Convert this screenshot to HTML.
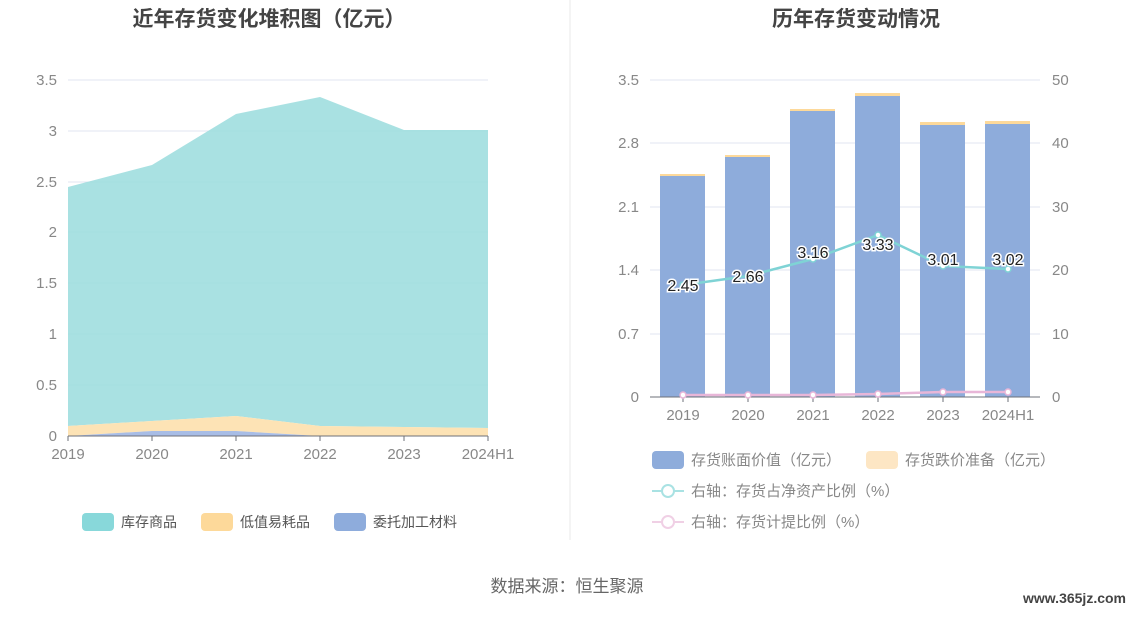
<!DOCTYPE html>
<html><head><meta charset="utf-8"><style>
body{margin:0;width:1134px;height:612px;background:#fff;overflow:hidden;font-family:"Liberation Sans","Noto Sans CJK SC",sans-serif}
</style></head><body>
<svg width="1134" height="612" viewBox="0 0 1134 612" font-family="Liberation Sans, Noto Sans CJK SC, sans-serif">
<text x="269" y="26" text-anchor="middle" font-size="21" font-weight="bold" fill="#444">近年存货变化堆积图（亿元）</text>
<text x="856" y="26" text-anchor="middle" font-size="21" font-weight="bold" fill="#444">历年存货变动情况</text>
<line x1="570" y1="0" x2="570" y2="540" stroke="#e8e8e8"/>
<g stroke="#e0e6f1">
<line x1="68" y1="80" x2="488" y2="80"/><line x1="68" y1="131" x2="488" y2="131"/><line x1="68" y1="182" x2="488" y2="182"/><line x1="68" y1="232" x2="488" y2="232"/><line x1="68" y1="283" x2="488" y2="283"/><line x1="68" y1="334" x2="488" y2="334"/><line x1="68" y1="385" x2="488" y2="385"/>
</g>
<g font-size="15" fill="#888" text-anchor="end">
<text x="57" y="85">3.5</text><text x="57" y="136">3</text><text x="57" y="187">2.5</text><text x="57" y="237">2</text><text x="57" y="288">1.5</text><text x="57" y="339">1</text><text x="57" y="390">0.5</text><text x="57" y="441">0</text>
</g>
<polygon fill="#9adcdd" opacity="0.85" points="68,187 152,165 236,114 320,97 404,130 488,130 488,428 404,427 320,426 236,416 152,421 68,426"/>
<polygon fill="#fde3b5" points="68,426 152,421 236,416 320,426 404,427 488,428 488,436 404,436 320,436 236,431 152,431 68,436"/>
<polygon fill="#a8bde6" points="68,436 152,431 236,431 320,436"/>
<line x1="68" y1="436" x2="488" y2="436" stroke="#6e7079"/>
<g stroke="#6e7079"><line x1="68" y1="436" x2="68" y2="441"/><line x1="152" y1="436" x2="152" y2="441"/><line x1="236" y1="436" x2="236" y2="441"/><line x1="320" y1="436" x2="320" y2="441"/><line x1="404" y1="436" x2="404" y2="441"/><line x1="488" y1="436" x2="488" y2="441"/></g>
<g font-size="15" fill="#888" text-anchor="middle">
<text x="68" y="459">2019</text><text x="152" y="459">2020</text><text x="236" y="459">2021</text><text x="320" y="459">2022</text><text x="404" y="459">2023</text><text x="488" y="459">2024H1</text>
</g>
<g font-size="14" fill="#555">
<rect x="82" y="513" width="32" height="18" rx="4" fill="#88d8da"/><text x="121" y="527">库存商品</text>
<rect x="201" y="513" width="32" height="18" rx="4" fill="#fdd99a"/><text x="240" y="527">低值易耗品</text>
<rect x="334" y="513" width="32" height="18" rx="4" fill="#8eacdc"/><text x="373" y="527">委托加工材料</text>
</g>
<g stroke="#e0e6f1">
<line x1="650" y1="80" x2="1040" y2="80"/><line x1="650" y1="143" x2="1040" y2="143"/><line x1="650" y1="207" x2="1040" y2="207"/><line x1="650" y1="270" x2="1040" y2="270"/><line x1="650" y1="334" x2="1040" y2="334"/>
</g>
<g font-size="15" fill="#888" text-anchor="end">
<text x="639" y="85">3.5</text><text x="639" y="148">2.8</text><text x="639" y="212">2.1</text><text x="639" y="275">1.4</text><text x="639" y="339">0.7</text><text x="639" y="402">0</text>
</g>
<g font-size="15" fill="#888">
<text x="1052" y="85">50</text><text x="1052" y="148">40</text><text x="1052" y="212">30</text><text x="1052" y="275">20</text><text x="1052" y="339">10</text><text x="1052" y="402">0</text>
</g>
<g fill="#8eacdb">
<rect x="660" y="176" width="45" height="221"/><rect x="725" y="157" width="45" height="240"/><rect x="790" y="111" width="45" height="286"/><rect x="855" y="96" width="45" height="301"/><rect x="920" y="125" width="45" height="272"/><rect x="985" y="124" width="45" height="273"/>
</g>
<g fill="#fdd99a">
<rect x="660" y="174" width="45" height="2"/><rect x="725" y="155" width="45" height="2"/><rect x="790" y="109" width="45" height="2"/><rect x="855" y="93" width="45" height="3"/><rect x="920" y="122" width="45" height="3"/><rect x="985" y="121" width="45" height="3"/>
</g>
<line x1="650" y1="397" x2="1040" y2="397" stroke="#6e7079"/>
<g stroke="#6e7079"><line x1="683" y1="397" x2="683" y2="402"/><line x1="748" y1="397" x2="748" y2="402"/><line x1="813" y1="397" x2="813" y2="402"/><line x1="878" y1="397" x2="878" y2="402"/><line x1="943" y1="397" x2="943" y2="402"/><line x1="1008" y1="397" x2="1008" y2="402"/></g>
<polyline fill="none" stroke="#e8b6d8" stroke-width="2.5" points="683,395 748,395 813,395 878,394 943,392 1008,392"/>
<g fill="#fff" stroke="#e8b6d8" stroke-width="1.5"><circle cx="683" cy="395" r="3"/><circle cx="748" cy="395" r="3"/><circle cx="813" cy="395" r="3"/><circle cx="878" cy="394" r="3"/><circle cx="943" cy="392" r="3"/><circle cx="1008" cy="392" r="3"/></g>
<polyline fill="none" stroke="#7fd3d5" stroke-width="2.5" points="683,285 748,276 813,259 878,235 943,266 1008,269"/>
<g fill="#fff" stroke="#7fd3d5" stroke-width="1.5"><circle cx="683" cy="285" r="3"/><circle cx="748" cy="276" r="3"/><circle cx="813" cy="259" r="3"/><circle cx="878" cy="235" r="3"/><circle cx="943" cy="266" r="3"/><circle cx="1008" cy="269" r="3"/></g>
<g font-size="16" fill="#222" text-anchor="middle" stroke="#fff" stroke-width="3" paint-order="stroke">
<text x="683" y="291">2.45</text><text x="748" y="282">2.66</text><text x="813" y="258">3.16</text><text x="878" y="250">3.33</text><text x="943" y="265">3.01</text><text x="1008" y="265">3.02</text>
</g>
<g font-size="15" fill="#888" text-anchor="middle">
<text x="683" y="420">2019</text><text x="748" y="420">2020</text><text x="813" y="420">2021</text><text x="878" y="420">2022</text><text x="943" y="420">2023</text><text x="1008" y="420">2024H1</text>
</g>
<g font-size="15" fill="#888">
<rect x="652" y="451" width="32" height="18" rx="4" fill="#8eacdb"/><text x="691" y="465">存货账面价值（亿元）</text>
<rect x="866" y="451" width="32" height="18" rx="4" fill="#fde6c4"/><text x="905" y="465">存货跌价准备（亿元）</text>
<line x1="652" y1="491" x2="684" y2="491" stroke="#a9e2e3" stroke-width="2"/><circle cx="668" cy="491" r="6" fill="#fff" stroke="#a9e2e3" stroke-width="2"/><text x="691" y="496">右轴：存货占净资产比例（%）</text>
<line x1="652" y1="522" x2="684" y2="522" stroke="#f0d0e5" stroke-width="2"/><circle cx="668" cy="522" r="6" fill="#fff" stroke="#f0d0e5" stroke-width="2"/><text x="691" y="527">右轴：存货计提比例（%）</text>
</g>
<text x="567" y="592" text-anchor="middle" font-size="17" fill="#666">数据来源：恒生聚源</text>
<text x="1126" y="603" text-anchor="end" font-size="14" font-weight="bold" fill="#444">www.365jz.com</text>
</svg>
</body></html>
